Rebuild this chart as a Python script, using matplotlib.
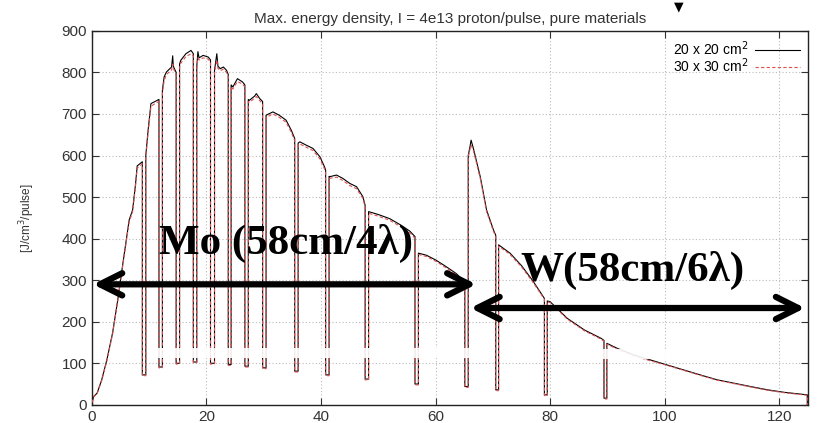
import matplotlib
matplotlib.use("Agg")
import matplotlib.pyplot as plt
from matplotlib.patches import Rectangle

# ---- data: step segments between the plates (x in cm, y in J/cm3/pulse) ----
seg_x = [
    [0, 0.3, 0.9, 1.7, 2.6, 3.6, 4.5, 5.5, 6.5, 7.1, 7.6, 7.9, 8.8],
    [9.4, 9.8, 10.3, 11.0, 11.7],
    [12.3, 12.6, 13.0, 13.9, 14.1, 14.2, 14.7],
    [15.3, 15.5, 16.4, 17.3, 17.7],
    [18.3, 18.5, 18.7, 19.4, 20.3, 20.7],
    [21.4, 21.8, 22.0, 22.4, 22.95, 23.5, 23.8],
    [24.3, 24.6, 25.4, 26.3, 26.7],
    [27.3, 27.5, 28.4, 28.7, 29.3, 29.8],
    [30.4, 31.6, 32.7, 33.9, 34.8, 35.4],
    [36.0, 36.3, 37.4, 38.6, 39.8, 40.6, 40.8],
    [41.4, 41.5, 42.7, 43.8, 45.0, 46.2, 47.3, 47.7],
    [48.3, 50.0, 52.0, 54.0, 55.5, 56.4],
    [57.0, 58.4, 60.1, 61.9, 63.6, 65.1],
    [65.7, 66.0, 66.2, 66.6, 67.8, 68.9, 70.1, 70.5],
    [71.0, 73.0, 75.0, 77.0, 79.0],
    [79.5, 80.0, 83.0, 86.0, 88.9, 89.4],
    [89.9, 91.7, 94.6, 97.5, 100.4, 103.3, 106.2, 109.2, 112.1, 115.0, 118.0, 120.9, 124.9],
]

y_20 = [
    [5, 20, 28, 60, 108, 173, 252, 350, 445, 469, 530, 575, 585],
    [600, 660, 725, 730, 735],
    [757, 789, 801, 813, 840, 815, 800],
    [820, 829, 845, 853, 845],
    [813, 850, 835, 841, 837, 830],
    [805, 845, 815, 809, 813, 805, 795],
    [770, 765, 785, 777, 770],
    [735, 733, 743, 749, 737, 730],
    [697, 705, 697, 685, 661, 641],
    [630, 633, 625, 617, 597, 573, 565],
    [550, 549, 553, 545, 533, 525, 501, 480],
    [465, 458, 448, 432, 418, 405],
    [365, 360, 348, 332, 316, 296],
    [600, 621, 637, 617, 549, 469, 421, 408],
    [385, 365, 335, 298, 256],
    [250, 248, 208, 180, 160, 155],
    [148, 136, 120, 108, 96, 84, 72, 60, 52, 44, 36, 30, 24],
]

y_30 = [
    [5, 19, 27, 58, 106, 170, 250, 347, 440, 465, 525, 570, 580],
    [595, 655, 718, 725, 730],
    [750, 780, 795, 806, 820, 810, 795],
    [812, 822, 838, 845, 840],
    [808, 835, 830, 835, 832, 825],
    [800, 830, 810, 804, 808, 800, 790],
    [765, 760, 778, 772, 765],
    [730, 728, 738, 742, 732, 725],
    [692, 700, 692, 680, 656, 636],
    [626, 628, 620, 612, 592, 568, 560],
    [546, 545, 548, 540, 528, 520, 497, 476],
    [461, 454, 444, 428, 414, 401],
    [362, 357, 345, 329, 313, 293],
    [596, 615, 625, 612, 545, 465, 418, 405],
    [382, 362, 332, 295, 254],
    [248, 246, 206, 178, 158, 153],
    [146, 134, 118, 106, 95, 83, 71, 59, 51, 43, 35, 29, 23],
]

dip_20 = [72, 91, 100, 103, 100, 97, 93, 89, 81, 72, 62, 50, 44, 36, 24, 16]
dip_30 = [70, 89, 98, 101, 98, 95, 91, 87, 79, 70, 60, 48, 42, 34, 22, 14]

series_labels = ["20 x 20 cm$^2$", "30 x 30 cm$^2$"]
title = "Max. energy density, I = 4e13 proton/pulse, pure materials"
ylabel = "[J/cm$^3$/pulse]"
x_ticks = [0, 20, 40, 60, 80, 100, 120]
y_ticks = [0, 100, 200, 300, 400, 500, 600, 700, 800, 900]


def build_curve(seg_x, seg_y, dips):
    xs, ys = [], []
    for i in range(len(seg_x)):
        xs += seg_x[i]
        ys += seg_y[i]
        if i < len(dips):
            xs += [seg_x[i][-1], seg_x[i + 1][0]]
            ys += [dips[i], dips[i]]
    xs.append(seg_x[-1][-1])
    ys.append(0)
    return xs, ys


plt.rcParams['font.family'] = ['Liberation Sans', 'DejaVu Sans']

fig = plt.figure(figsize=(8.21, 4.23), dpi=100)
ax = fig.add_axes([0.112, 0.043, 0.872, 0.884])

x20, v20 = build_curve(seg_x, y_20, dip_20)
x30, v30 = build_curve(seg_x, y_30, dip_30)
ax.plot(x20, v20, color='black', lw=0.8, label=series_labels[0], zorder=3)
ax.plot(x30, v30, color='#e05050', lw=0.8, ls=(0, (3, 2)), label=series_labels[1], zorder=4)

# white smudges from the original slide
for (rx, rw, ry, rh) in [(11, 56, 112, 24), (88, 17, 110, 24)]:
    ax.add_patch(Rectangle((rx, ry), rw, rh, facecolor='white', edgecolor='none',
                           alpha=0.9, zorder=5))

ax.set_xlim(0, 125)
ax.set_ylim(0, 900)
ax.set_xticks(x_ticks)
ax.set_yticks(y_ticks)
ax.tick_params(direction='in', length=5, top=True, right=True, labelsize=11, colors='#333333')
ax.grid(True, ls=(0, (1, 2)), color='#bbbbbb', lw=0.8)
for s in ax.spines.values():
    s.set_color('#222222')
    s.set_linewidth(1.0)

ax.set_title(title, fontsize=11, color='#333333', pad=6)
ax.set_ylabel(ylabel, fontsize=8.5, color='#333333', labelpad=18)

leg = ax.legend(loc='upper right', frameon=False, markerfirst=False, fontsize=10,
                handlelength=3.2, borderaxespad=0.2, labelspacing=-0.1, handletextpad=0.5)

# region arrows and labels
arrow_style = dict(arrowstyle='<->', lw=4.5, color='black', mutation_scale=40)
ax.annotate('', xy=(-0.3, 290), xytext=(67.6, 290), arrowprops=arrow_style,
            zorder=6, annotation_clip=False)
ax.annotate('', xy=(65.6, 233), xytext=(125.0, 233), arrowprops=arrow_style,
            zorder=6, annotation_clip=False)
ax.text(33.8, 388, 'Mo (58cm/4λ)', fontsize=31, fontweight='bold', ha='center', va='center',
        family=['Liberation Serif', 'DejaVu Serif'], zorder=7)
ax.text(94.3, 323, 'W(58cm/6λ)', fontsize=31, fontweight='bold', ha='center', va='center',
        family=['Liberation Serif', 'DejaVu Serif'], zorder=7)

fig.text(679 / 821, 1 - 7 / 423, '▼', fontsize=9, ha='center', va='center',
         family=['DejaVu Sans'])

fig.savefig('out.png', dpi=100)
